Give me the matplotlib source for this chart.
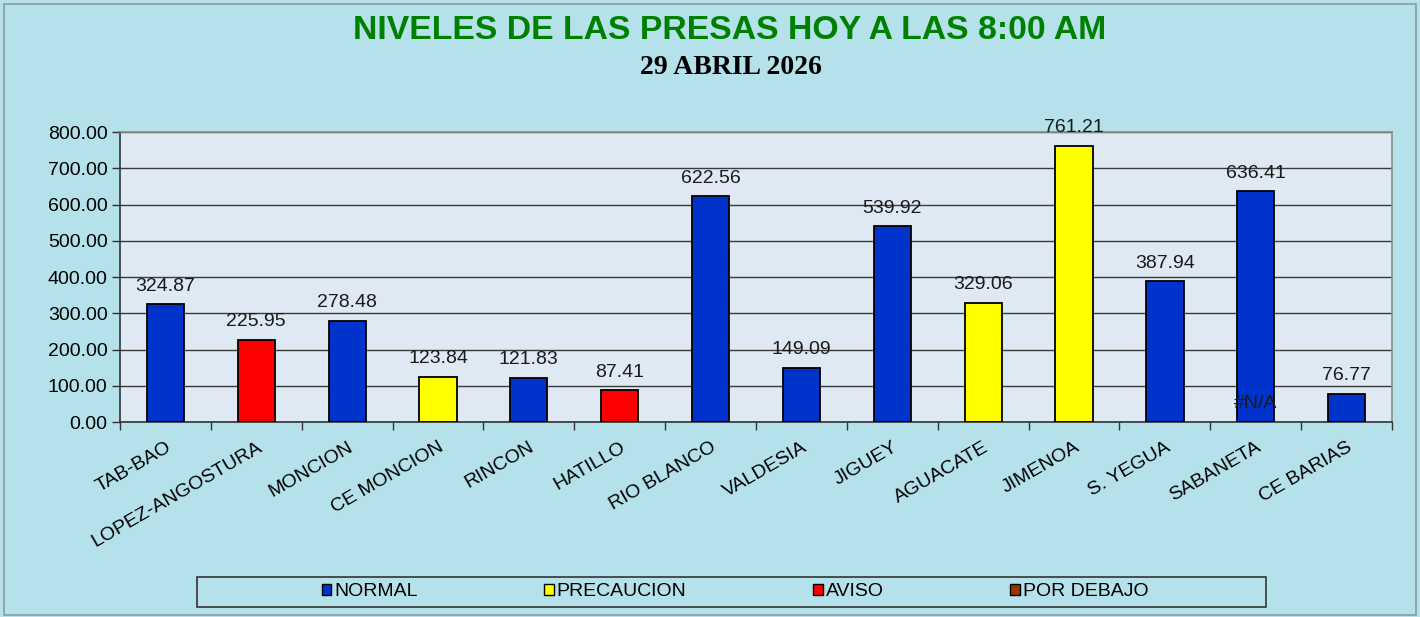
#!/usr/bin/env python
"""niveles de las presas - bar chart"""

import matplotlib
matplotlib.use("Agg")
from matplotlib import pyplot as plt
from matplotlib.patches import Patch, Rectangle
from matplotlib.ticker import FixedLocator, FormatStrFormatter

presas = ["TAB-BAO", "LOPEZ-ANGOSTURA", "MONCION", "CE MONCION", "RINCON",
          "HATILLO", "RIO BLANCO", "VALDESIA", "JIGUEY", "AGUACATE",
          "JIMENOA", "S. YEGUA", "SABANETA", "CE BARIAS"]
niveles = [324.87, 225.95, 278.48, 123.84, 121.83, 87.41, 622.56, 149.09,
           539.92, 329.06, 761.21, 387.94, 636.41, 76.77]
estado = ["NORMAL", "AVISO", "NORMAL", "PRECAUCION", "NORMAL", "AVISO",
          "NORMAL", "NORMAL", "NORMAL", "PRECAUCION", "PRECAUCION", "NORMAL",
          "NORMAL", "NORMAL"]
categorias = ["NORMAL", "PRECAUCION", "AVISO", "POR DEBAJO"]
# label of the empty series shown over SABANETA
na_presa = "SABANETA"
na_texto = "#N/A"

colores = {"NORMAL": "#0033cc", "PRECAUCION": "#ffff00",
           "AVISO": "#ff0000", "POR DEBAJO": "#993300"}

plt.rcParams['font.family'] = ['Liberation Sans', 'DejaVu Sans']
fs = 14

fig = plt.figure(figsize=(14.2, 6.17), dpi=100)
fig.patch.set_facecolor("#b4e1ea")
fig.patches.append(Rectangle((0.003, 0.004), 0.994, 0.99, transform=fig.transFigure,
                             fill=False, edgecolor="#8a9ca0", linewidth=1.2))

ax = fig.add_axes([0.0845, 0.316, 0.8958, 0.47])
ax.set_facecolor("#dfe9f4")

x = list(range(len(presas)))
bars = ax.bar(x, niveles, width=0.41, color=[colores[e] for e in estado],
              edgecolor="black", linewidth=1.3, zorder=3)

for xi, v in zip(x, niveles):
    ax.annotate("%.2f" % v, (xi, v), xytext=(0, 7), textcoords="offset points",
                ha="center", va="bottom", fontsize=fs, color="#1a1a1a",
                annotation_clip=False, zorder=4)

ax.annotate(na_texto, (presas.index(na_presa), 0), xytext=(0, 7),
            textcoords="offset points", ha="center", va="bottom",
            fontsize=fs, color="#1a1a1a", zorder=4)

ax.set_xlim(-0.5, len(presas) - 0.5)
ax.set_ylim(0, 800)
ax.set_yticks(range(0, 801, 100))
ax.yaxis.set_major_formatter(FormatStrFormatter("%.2f"))
ax.grid(axis="y", color="#3a3a3a", linewidth=1.0, zorder=1)

ax.set_xticks(x)
ax.set_xticklabels(presas, rotation=30, ha="right", rotation_mode="anchor",
                   fontsize=fs)
ax.xaxis.set_minor_locator(FixedLocator([i - 0.5 for i in range(len(presas) + 1)]))
ax.tick_params(axis="x", which="major", length=0, pad=12)
ax.tick_params(axis="x", which="minor", length=6, width=1.0, color="#333333")
ax.tick_params(axis="y", length=6, width=1.0, color="#333333", labelsize=fs, pad=3)

for side in ["top", "right"]:
    ax.spines[side].set_color("#8c8c8c")
    ax.spines[side].set_linewidth(1.2)
for side in ["left", "bottom"]:
    ax.spines[side].set_color("#333333")
    ax.spines[side].set_linewidth(1.2)

fig.text(0.514, 0.951, "NIVELES DE LAS PRESAS HOY A LAS 8:00 AM", ha="center",
         va="center", fontsize=24.3, fontweight="bold", color="#008000")
fig.text(0.5145, 0.891, "29 ABRIL 2026", ha="center", va="center", fontsize=20,
         fontweight="bold", color="black", family=["Liberation Serif", "DejaVu Serif"])

# legend box
fig.patches.append(Rectangle((197 / 1420, 1 - 607 / 617), (1266 - 197) / 1420, 30 / 617,
                             transform=fig.transFigure, fill=False,
                             edgecolor="#333333", linewidth=1.2))
handles = [Patch(facecolor=colores[c], edgecolor="black", linewidth=1.0) for c in categorias]
fig.legend(handles, categorias, loc="center", bbox_to_anchor=(735 / 1420, 1 - 592 / 617),
           ncol=4, frameon=False, fontsize=fs, handlelength=0.5, handleheight=0.5,
           handletextpad=0.15, columnspacing=6.5)

fig.savefig("out.png", dpi=100, facecolor=fig.get_facecolor())
